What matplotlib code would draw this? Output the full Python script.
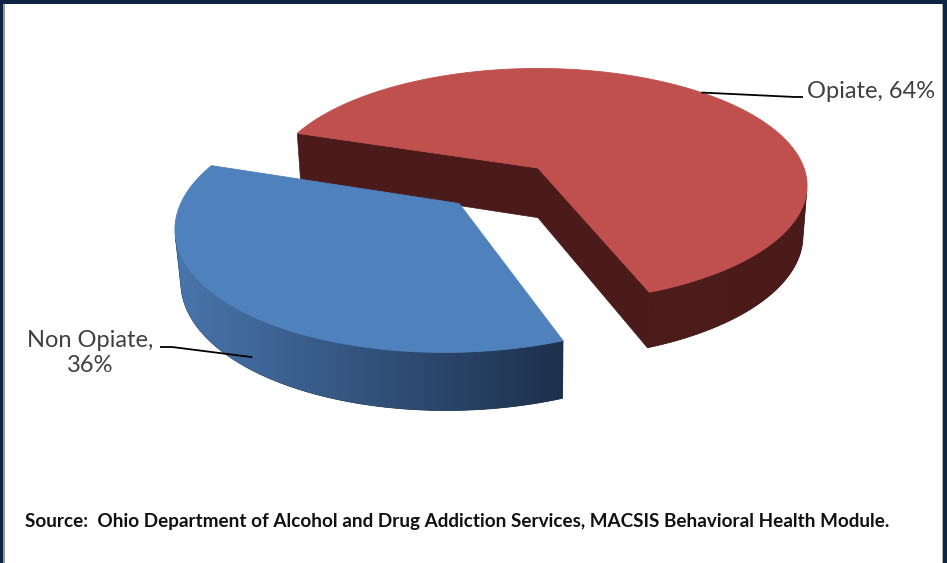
import numpy as np
import matplotlib
matplotlib.use('Agg')
import matplotlib.pyplot as plt
from matplotlib.patches import Polygon, Rectangle
from matplotlib.colors import LinearSegmentedColormap

# Treatment admissions by primary drug type
labels = ['Non Opiate', 'Opiate']
shares = [36, 64]
top_colors = ['#4F81BD', '#C0504D']
wall_light = ['#4875AC', '#4D1D1C']
wall_dark = ['#1D304C', '#4A1B1A']
explode = [0.41, 0.0]
source_note = ('Source:  Ohio Department of Alcohol and Drug Addiction Services, '
               'MACSIS Behavioral Health Module.')

W, H = 947, 563

# camera / layout for the tilted pie
elev = np.radians(25.5)
dist = 6.0
cx, cy, scale = 538, 168, 266
depth = 0.21
start = 161.5
cam = np.array([0.0, -dist * np.cos(elev), dist * np.sin(elev)])


def project(x, y, z):
    f = dist + y * np.cos(elev) - z * np.sin(elev)
    u = y * np.sin(elev) + z * np.cos(elev)
    return cx + scale * x * dist / f, cy - scale * u * dist / f


def facing(normal, point):
    return np.dot(normal, cam - point) > 0


fig = plt.figure(figsize=(W / 100, H / 100), dpi=100)
ax = fig.add_axes([0, 0, 1, 1])
ax.axis('off')

# slice angle ranges (counter-clockwise, degrees)
bounds = start + np.concatenate([[0], np.cumsum(shares)]) * 3.6
slices = []
for i in range(len(shares)):
    a0, a1 = bounds[i], bounds[i + 1]
    mid = np.radians((a0 + a1) / 2)
    ox, oy = explode[i] * np.cos(mid), explode[i] * np.sin(mid)
    slices.append((a0, a1, ox, oy))

z = 1
# farther slice first
order = sorted(range(len(shares)), key=lambda i: -slices[i][3])
for i in order:
    a0, a1, ox, oy = slices[i]
    th = np.radians(np.linspace(a0, a1, 400))
    ex, ey = ox + np.cos(th), oy + np.sin(th)

    # radial cut faces
    for a, sgn in ((a0, -1), (a1, 1)):
        r = np.radians(a)
        nrm = np.array([np.cos(r + sgn * np.pi / 2), np.sin(r + sgn * np.pi / 2), 0])
        pm = np.array([ox + 0.5 * np.cos(r), oy + 0.5 * np.sin(r), -depth / 2])
        if facing(nrm, pm):
            px, py = project(np.array([ox, ox + np.cos(r), ox + np.cos(r), ox]),
                             np.array([oy, oy + np.sin(r), oy + np.sin(r), oy]),
                             np.array([0, 0, -depth, -depth]))
            ax.add_patch(Polygon(np.column_stack([px, py]), closed=True, zorder=z,
                                 facecolor=wall_dark[i], edgecolor=wall_dark[i], lw=0.5))
            z += 1

    # outer curved wall, shaded left to right
    vis = np.array([facing(np.array([np.cos(t), np.sin(t), 0]),
                           np.array([ex[k], ey[k], -depth / 2])) for k, t in enumerate(th)])
    if vis.any():
        tx, ty = project(ex[vis], ey[vis], np.zeros(vis.sum()))
        bx, by = project(ex[vis], ey[vis], np.full(vis.sum(), -depth))
        pts = np.column_stack([np.concatenate([tx, bx[::-1]]),
                               np.concatenate([ty, by[::-1]])])
        wall = Polygon(pts, closed=True, zorder=z,
                       facecolor=wall_dark[i], edgecolor=wall_dark[i], lw=0.5)
        ax.add_patch(wall)
        z += 1
        cmap = LinearSegmentedColormap.from_list('wall', [wall_light[i], wall_dark[i]])
        im = ax.imshow(np.linspace(0, 1, 256)[None, :], cmap=cmap, aspect='auto',
                       extent=(pts[:, 0].min(), pts[:, 0].max(),
                               pts[:, 1].max(), pts[:, 1].min()),
                       zorder=z, interpolation='bilinear')
        im.set_clip_path(wall)
        z += 1

    # top face
    px, py = project(np.concatenate([[ox], ex]), np.concatenate([[oy], ey]),
                     np.zeros(len(ex) + 1))
    ax.add_patch(Polygon(np.column_stack([px, py]), closed=True, zorder=z,
                         facecolor=top_colors[i], edgecolor=top_colors[i], lw=0.6))
    z += 1

# data labels with leader lines
label_font = dict(family=['Lato', 'DejaVu Sans'], size=17, color='#404040')

a0, a1, ox, oy = slices[1]
r = np.radians(47)
lx, ly = project(ox + np.cos(r), oy + np.sin(r), 0.0)
ax.plot([lx, 795, 803], [ly, 97, 97], color='black', lw=1.3,
        solid_capstyle='butt', zorder=z)
ax.text(807, 92, f'{labels[1]}, {shares[1]}%', ha='left', va='center', **label_font)

a0, a1, ox, oy = slices[0]
r = np.radians(231)
lx, ly = project(ox + np.cos(r), oy + np.sin(r), -0.75 * depth)
ax.plot([lx, 172, 160], [ly, 347, 347], color='black', lw=1.3,
        solid_capstyle='butt', zorder=z)
ax.text(90, 353, f'{labels[0]},\n{shares[0]}%', ha='center', va='center',
        linespacing=1.25, **label_font)

ax.text(25, 521, source_note, ha='left', va='center', fontweight='bold',
        family=['Liberation Sans Narrow', 'Lato', 'DejaVu Sans'], size=13.6,
        color='#111111')

# slide frame
navy = '#0E2442'
ax.add_patch(Rectangle((0, 0), W, 4, facecolor=navy, edgecolor='none', zorder=z))
ax.add_patch(Rectangle((0, 0), 3, H, facecolor=navy, edgecolor='none', zorder=z))
ax.add_patch(Rectangle((W - 4, 0), 4, H, facecolor=navy, edgecolor='none', zorder=z))
ax.add_patch(Rectangle((3, 4), 1.5, H, facecolor='#9A9A9A', edgecolor='none', zorder=z))
ax.add_patch(Rectangle((W - 5.5, 4), 1.5, H, facecolor='#B0B0B0', edgecolor='none', zorder=z))

ax.set_xlim(0, W)
ax.set_ylim(H, 0)
fig.savefig('out.png', dpi=100)
